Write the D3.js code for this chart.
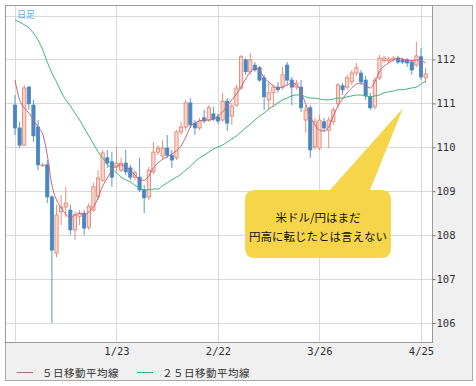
<!DOCTYPE html>
<html>
<head>
<meta charset="utf-8">
<script src="https://cdn.jsdelivr.net/npm/d3@7"></script>
<style>
body { margin:0; background:#fff; }
svg { display:block; }
</style>
</head>
<body>
<svg id="chart" width="476" height="386"></svg>
<script>
// daily USD/JPY candles, 12/24 - 4/26
const dates = ("12/24 12/25 12/26 12/27 12/28 12/31 1/1 1/2 1/3 1/4 1/7 1/8 1/9 1/10 1/11 1/14 1/15 1/16 1/17 1/18 " +
    "1/21 1/22 1/23 1/24 1/25 1/28 1/29 1/30 1/31 2/1 2/4 2/5 2/6 2/7 2/8 2/11 2/12 2/13 2/14 2/15 " +
    "2/18 2/19 2/20 2/21 2/22 2/25 2/26 2/27 2/28 3/1 3/4 3/5 3/6 3/7 3/8 3/11 3/12 3/13 3/14 3/15 " +
    "3/18 3/19 3/20 3/21 3/22 3/25 3/26 3/27 3/28 3/29 4/1 4/2 4/3 4/4 4/5 4/8 4/9 4/10 4/11 4/12 " +
    "4/15 4/16 4/17 4/18 4/19 4/22 4/23 4/24 4/25 4/26").split(" ");

const open = [110.96,110.44,110.05,111.37,110.96,110.46,109.60,109.60,108.87,107.59,
    108.53,108.64,108.57,108.12,108.43,108.50,108.18,108.57,108.87,109.25,
    109.76,109.67,109.55,109.48,109.64,109.53,109.32,109.32,109.03,108.87,
    109.44,109.89,109.80,109.98,109.82,109.76,110.35,110.46,111.01,110.55,
    110.44,110.67,110.62,110.76,110.69,110.62,111.05,110.71,110.96,111.35,
    111.99,111.72,111.87,111.81,111.58,111.08,111.24,111.37,111.37,111.87,
    111.53,111.37,111.37,110.62,110.90,110.01,109.98,110.58,110.39,110.58,
    110.99,111.40,111.37,111.49,111.69,111.69,111.53,111.15,110.92,111.58,
    111.97,111.97,111.99,112.03,111.99,111.99,111.94,111.87,112.06,111.58];
const high = [111.19,110.58,111.42,111.40,111.08,110.62,109.64,109.71,108.91,108.69,
    108.91,109.10,108.69,108.53,108.57,108.57,108.73,109.19,109.48,109.94,
    109.94,109.89,110.01,109.76,109.94,109.60,109.48,109.76,109.14,109.55,
    110.12,110.05,110.17,110.28,109.94,110.39,110.58,111.08,111.12,110.62,
    110.67,110.85,110.96,110.92,110.76,111.24,111.12,111.01,111.42,112.10,
    112.03,112.15,111.94,111.85,111.65,111.49,111.42,111.49,111.83,111.94,
    111.60,111.53,111.53,110.96,110.96,110.67,110.74,110.67,110.69,110.92,
    111.46,111.46,111.65,111.76,111.92,111.76,111.62,111.24,111.60,112.10,
    112.08,112.06,112.08,112.08,112.03,112.03,111.99,112.40,112.26,111.81];
const low = [110.28,109.98,110.03,110.85,110.12,109.48,109.55,108.73,106.00,107.50,
    108.23,108.41,108.00,107.89,108.23,108.00,108.12,108.53,108.80,109.21,
    109.53,109.10,109.44,109.44,109.37,109.25,109.25,108.98,108.50,108.80,
    109.39,109.82,109.71,109.76,109.53,109.71,110.28,110.39,110.44,110.28,
    110.39,110.55,110.58,110.60,110.53,110.58,110.37,110.51,110.92,111.31,
    111.65,111.65,111.72,111.49,110.85,110.85,110.92,111.24,111.31,111.42,
    110.96,111.31,110.80,110.33,109.76,109.94,109.94,110.35,109.98,110.51,
    110.90,111.19,111.31,111.42,111.62,111.42,111.08,110.85,110.87,111.53,
    111.92,111.92,111.94,111.90,111.90,111.83,111.65,111.83,111.53,111.46];
const close = [110.44,110.05,111.35,110.99,110.26,109.60,109.60,108.87,107.66,108.46,
    108.64,108.73,108.12,108.46,108.50,108.16,108.66,109.10,109.30,109.87,
    109.64,109.32,109.64,109.64,109.44,109.32,109.42,109.03,108.85,109.48,
    109.89,109.98,109.98,109.82,109.71,110.35,110.46,111.01,110.51,110.44,
    110.60,110.60,110.90,110.64,110.60,111.05,110.55,110.94,111.35,112.06,
    111.72,111.99,111.76,111.53,111.15,111.24,111.37,111.31,111.65,111.53,
    111.37,111.46,110.90,110.85,109.94,110.58,110.62,110.44,110.62,110.85,
    111.42,111.31,111.58,111.69,111.81,111.49,111.17,110.90,111.53,112.03,
    112.03,112.01,112.03,111.94,111.94,111.92,111.76,112.08,111.60,111.67];

// moving averages as drawn on the chart
const ma5 = [111.53,111.08,110.90,110.78,110.62,110.46,110.30,109.82,109.14,108.80,
    108.62,108.48,108.39,108.46,108.50,108.46,108.53,108.64,108.85,109.12,
    109.30,109.48,109.57,109.60,109.55,109.48,109.37,109.25,109.25,109.35,
    109.53,109.64,109.73,109.78,109.85,109.92,110.03,110.23,110.46,110.55,
    110.60,110.62,110.62,110.64,110.71,110.80,110.94,111.08,111.21,111.37,
    111.56,111.72,111.81,111.76,111.58,111.49,111.40,111.35,111.37,111.42,
    111.46,111.42,111.26,110.99,110.71,110.51,110.39,110.37,110.46,110.71,
    110.94,111.10,111.24,111.35,111.44,111.46,111.40,111.35,111.49,111.72,
    111.85,111.92,111.99,112.03,112.01,111.97,111.97,111.99,111.97,111.92];
const ma25 = [112.90,112.85,112.79,112.72,112.60,112.44,112.22,111.94,111.69,111.49,
    111.26,111.08,110.94,110.78,110.62,110.44,110.26,110.08,109.90,109.76,
    109.62,109.51,109.42,109.32,109.26,109.21,109.14,109.07,109.03,109.03,
    109.05,109.05,109.12,109.19,109.26,109.32,109.39,109.48,109.57,109.67,
    109.76,109.82,109.89,109.96,110.01,110.05,110.12,110.19,110.26,110.35,
    110.44,110.53,110.62,110.71,110.78,110.87,110.94,111.01,111.08,111.12,
    111.17,111.19,111.19,111.15,111.12,111.12,111.10,111.08,111.08,111.10,
    111.12,111.12,111.15,111.17,111.19,111.19,111.17,111.15,111.17,111.19,
    111.24,111.26,111.28,111.31,111.31,111.33,111.35,111.37,111.44,111.51];

const gridDates = ["12/24","1/23","2/22","3/26","4/25"];
const labelDates = ["1/23","2/22","3/26","4/25"];
const gridPrices = [106,107,108,109,110,111,112,113];
const labelPrices = [106,107,108,109,110,111,112];
const legendNames = ["５日移動平均線","２５日移動平均線"];
const noteLines = ["米ドル/円はまだ","円高に転じたとは言えない"];

let svg = d3.select("#chart");
let plotL = 5, plotR = 432, plotT = 5, plotB = 342;

let x = d3.scalePoint().domain(dates).range([15, 425.6]);
let y = d3.scaleLinear().domain([106, 113]).range([323, 15.5]);

// outer grey panel and white plot area
svg.append("rect").attr("x", 5.5).attr("y", 5.5).attr("width", 467).attr("height", 375)
   .attr("fill", "#f0f0f0").attr("stroke", "#a8a8a8");
svg.append("rect").attr("x", plotL + 0.5).attr("y", plotT + 0.5)
   .attr("width", plotR - plotL).attr("height", plotB - plotT)
   .attr("fill", "#fff").attr("stroke", "#9a9a9a");

let grid = svg.append("g");
grid.selectAll(".hg").data(gridPrices).enter().append("line")
    .attr("x1", plotL + 1).attr("x2", plotR)
    .attr("y1", d => Math.round(y(d)) + 0.5).attr("y2", d => Math.round(y(d)) + 0.5)
    .attr("stroke", "#d9d9d9");
grid.selectAll(".vg").data(gridDates).enter().append("line")
    .attr("x1", d => Math.round(x(d)) + 0.5).attr("x2", d => Math.round(x(d)) + 0.5)
    .attr("y1", plotT + 1).attr("y2", plotB)
    .attr("stroke", "#d9d9d9");

// candles
let idx = d3.range(dates.length);
let candles = svg.append("g");
let up = i => close[i] >= open[i];
candles.selectAll(".wick").data(idx).enter().append("line")
    .attr("x1", i => x(dates[i])).attr("x2", i => x(dates[i]))
    .attr("y1", i => y(high[i])).attr("y2", i => y(low[i]))
    .attr("stroke", i => up(i) ? "#e3907c" : "#5b98cc")
    .attr("stroke-width", 1);
candles.selectAll(".body").data(idx).enter().append("rect")
    .attr("x", i => x(dates[i]) - 1.6)
    .attr("width", 3.2)
    .attr("y", i => y(Math.max(open[i], close[i])))
    .attr("height", i => Math.max(1, Math.abs(y(open[i]) - y(close[i]))))
    .attr("fill", i => up(i) ? "#fcd9cf" : "#4a87c2")
    .attr("stroke", i => up(i) ? "#e07c66" : "#4a87c2")
    .attr("stroke-width", 0.8);

// moving averages
let line = d3.line().x((d, i) => x(dates[i])).y(d => y(d)).curve(d3.curveMonotoneX);
svg.append("path").attr("d", line(ma25)).attr("fill", "none")
   .attr("stroke", "#3db37a").attr("stroke-width", 1);
svg.append("path").attr("d", line(ma5)).attr("fill", "none")
   .attr("stroke", "#c4637f").attr("stroke-width", 1);

// axes
let yAxis = d3.axisRight(y).tickValues(labelPrices).tickSize(3).tickPadding(1).tickFormat(d3.format("d"));
let ya = svg.append("g").attr("transform", `translate(${plotR + 0.5},0)`).call(yAxis);
ya.select(".domain").remove();
ya.selectAll("line").attr("stroke", "#777");
ya.selectAll("text").attr("fill", "#333").style("font-family", "'DejaVu Sans Mono', monospace").style("font-size", "10.5px");

let xAxis = d3.axisBottom(x).tickValues(labelDates).tickSize(0).tickPadding(6);
let xa = svg.append("g").attr("transform", `translate(0,${plotB})`).call(xAxis);
xa.select(".domain").remove();
xa.selectAll("text").attr("fill", "#333").style("font-family", "'DejaVu Sans Mono', monospace").style("font-size", "10.5px");

// title tag
svg.append("text").attr("x", 17).attr("y", 18).text("日足")
   .attr("fill", "#4fb0e6").style("font-family", "'Noto Sans CJK JP'").style("font-size", "9px");

// legend
let legendColors = ["#c4637f", "#3db37a"];
let legendX = [17, 137];
let lg = svg.append("g").selectAll("g").data(legendNames).enter().append("g")
    .attr("transform", (d, i) => `translate(${legendX[i]},372)`);
lg.append("line").attr("x1", 0).attr("x2", 16).attr("y1", 0.5).attr("y2", 0.5)
  .attr("stroke", (d, i) => legendColors[i]);
lg.append("text").attr("x", 25).attr("y", 4.5).text(d => d)
  .attr("fill", "#333").style("font-family", "'Noto Sans CJK JP'").style("font-size", "10.5px")
  .style("letter-spacing", "0.5px");

// callout
let note = svg.append("g");
note.append("path")
    .attr("d", "M255,190 L330,190 L403,108 L370,190 L381,190 Q391,190 391,200 L391,248 Q391,258 381,258 L255,258 Q245,258 245,248 L245,200 Q245,190 255,190 Z")
    .attr("fill", "#f6d54b");
note.selectAll("text").data(noteLines).enter().append("text")
    .attr("x", 318).attr("y", (d, i) => 222 + i * 19)
    .attr("text-anchor", "middle").text(d => d)
    .attr("fill", "#111").style("font-family", "'Noto Sans CJK JP'").style("font-size", "11.5px");
</script>
</body>
</html>
